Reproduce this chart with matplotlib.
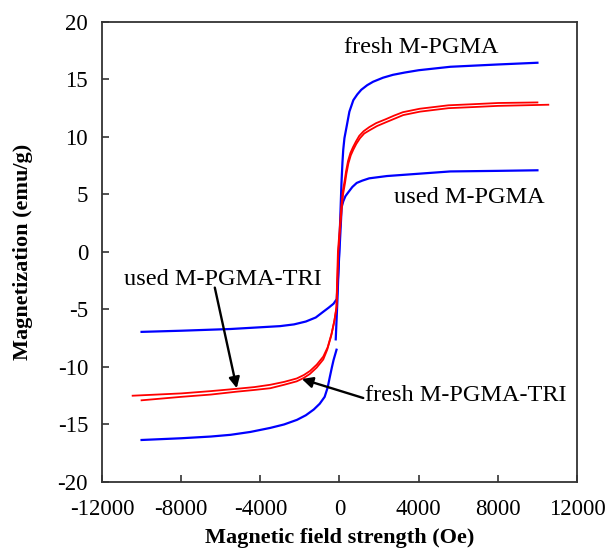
import numpy as np
import matplotlib
matplotlib.use("Agg")
import matplotlib.pyplot as plt

plt.rcParams['font.family'] = ['Liberation Serif', 'DejaVu Serif']
plt.rcParams['axes.unicode_minus'] = False

# fresh M-PGMA (blue), field in Oe, magnetization in emu/g
fresh_pgma_x = [-10000, -8000, -6500, -5500, -4500, -3500, -2800, -2150, -1700, -1300, -1000,
                -750, -600, -480, -380, -300, -150, np.nan,
                -190, -100, 0, 100, 150, 190, 250, 360, 500, 700, 900, 1100, 1400, 1700,
                2200, 2700, 3300, 4000, 5600, 8000, 10000]
fresh_pgma_y = [-16.35, -16.2, -16.05, -15.9, -15.65, -15.3, -15.0, -14.6, -14.2, -13.7, -13.2,
                -12.6, -11.8, -10.8, -10.0, -9.4, -8.5, np.nan,
                -7.6, -4.0, 1.0, 6.0, 7.8, 8.9, 9.9, 10.9, 12.2, 13.2, 13.7, 14.1, 14.5, 14.8,
                15.15, 15.4, 15.6, 15.8, 16.1, 16.3, 16.45]

# used M-PGMA (blue)
used_pgma_x = [-10000, -8000, -5500, -4000, -3000, -2300, -1700, -1200, -820, -550, -300, -140,
               -50, 40, 110, 190, 300, 450, 650, 870, 1150, 1500, 2400, 3200, 4000, 5600,
               8000, 10000]
used_pgma_y = [-6.95, -6.85, -6.7, -6.55, -6.45, -6.3, -6.05, -5.7, -5.2, -4.85, -4.5, -4.1,
               -1.5, 1.5, 3.9, 4.4, 4.85, 5.2, 5.65, 6.0, 6.2, 6.4, 6.6, 6.7, 6.8, 7.0,
               7.05, 7.1]

# used M-PGMA-TRI (red)
used_tri_x = [-10450, -8000, -6500, -5200, -4300, -3500, -2800, -2160, -1800, -1490, -1150,
              -820, -600, -400, -250, -140, -60, 110, 180, 280, 350, 450, 570, 700, 850,
              1040, 1250, 1540, 1900, 2380, 2800, 3220, 4070, 5500, 6800, 8000, 10550]
used_tri_y = [-12.5, -12.3, -12.1, -11.9, -11.75, -11.55, -11.3, -11.0, -10.7, -10.35, -9.8,
              -9.1, -8.3, -7.1, -5.9, -4.7, 0.0, 3.7, 5.0, 6.0, 6.8, 7.7, 8.4, 8.9, 9.4,
              9.9, 10.3, 10.6, 10.95, 11.3, 11.6, 11.9, 12.2, 12.5, 12.6, 12.7, 12.8]

# fresh M-PGMA-TRI (red)
fresh_tri_x = [-10000, -8000, -6500, -5200, -4300, -3500, -2800, -2160, -1800, -1490, -1150,
               -820, -620, -420, -270, -160, -80, 90, 160, 260, 330, 430, 550, 680, 830,
               1000, 1220, 1500, 1850, 2350, 2750, 3200, 4050, 5500, 6800, 8000, 10000]
fresh_tri_y = [-12.9, -12.6, -12.4, -12.15, -12.0, -11.85, -11.55, -11.25, -10.95, -10.6, -10.05,
               -9.35, -8.5, -7.3, -6.1, -4.9, 0.0, 3.9, 5.2, 6.2, 7.0, 7.9, 8.6, 9.1, 9.6,
               10.1, 10.5, 10.85, 11.2, 11.55, 11.85, 12.15, 12.45, 12.75, 12.85, 12.95, 13.0]

fig = plt.figure(figsize=(6.07, 5.48), dpi=100)
ax = fig.add_axes([0.168, 0.1205, 0.7826, 0.8395])

ax.plot(fresh_pgma_x, fresh_pgma_y, color='#0000ff', lw=1.6)
ax.plot(used_pgma_x, used_pgma_y, color='#0000ff', lw=1.6)
ax.plot(used_tri_x, used_tri_y, color='#ff0000', lw=1.3)
ax.plot(fresh_tri_x, fresh_tri_y, color='#ff0000', lw=1.3)

ax.set_xlim(-12000, 12000)
ax.set_ylim(-20, 20)
ax.set_xticks(np.arange(-12000, 12001, 4000))
ax.set_yticks(np.arange(-20, 21, 5))
ax.tick_params(direction='in', length=5, width=1.2, labelsize=16.5, color='#333333')
ax.tick_params(axis='x', pad=12)
ax.tick_params(axis='y', pad=10)
for sp in ax.spines.values():
    sp.set_color('#333333')
    sp.set_linewidth(1.3)

ax.set_xlabel('Magnetic field strength (Oe)', fontsize=16, fontweight='bold', labelpad=6)
ax.set_ylabel('Magnetization (emu/g)', fontsize=16, fontweight='bold', labelpad=18)

txt = dict(fontsize=17.5, ha='center', va='center')
ax.text(4150, 17.8, 'fresh M-PGMA', **txt)
ax.text(6550, 4.7, 'used M-PGMA', **txt)
ax.text(-5900, -2.4, 'used M-PGMA-TRI', **txt)
ax.text(6400, -12.5, 'fresh M-PGMA-TRI', **txt)

arrow = dict(arrowstyle='-|>', color='black', lw=1.7, mutation_scale=16, shrinkA=0, shrinkB=0)
ax.annotate('', xy=(-5190, -11.85), xytext=(-6300, -3.1), arrowprops=arrow)
ax.annotate('', xy=(-1900, -11.05), xytext=(1200, -12.7), arrowprops=arrow)

fig.savefig('out.png', dpi=100)
